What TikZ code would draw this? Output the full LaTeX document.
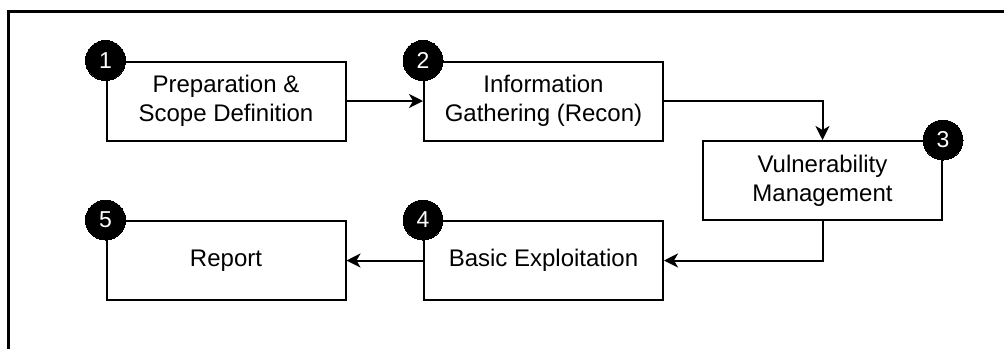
\documentclass[tikz,border=0pt]{standalone}
\usepackage{fontspec}
\setmainfont{Liberation Sans}
\usetikzlibrary{arrows.meta}
\begin{document}
\begin{tikzpicture}[x=1pt,y=-1pt,
  stepbox/.style={draw=black, line width=2pt, fill=white, minimum width=239pt, minimum height=79pt,
    align=center, inner sep=0pt, font=\fontsize{24}{29}\selectfont},
  num/.style={circle, fill=black, draw=black, line width=0pt, minimum size=40pt, inner sep=0pt,
    text=white, font=\fontsize{23}{24}\selectfont},
  arr/.style={line width=2pt, -{Stealth[length=14pt, width=14pt, inset=4pt]}},
  frame/.style={line width=2.3pt}]
\useasboundingbox (0,0) rectangle (1004,349);
\draw[frame] (8.5,349) -- (8.5,11.5) -- (1004,11.5);
\node[stepbox] (b1) at (226,101) {Preparation \&\\Scope Definition};
\node[stepbox] (b2) at (543.5,101) {Information\\Gathering (Recon)};
\node[stepbox] (b3) at (822.5,180.5) {Vulnerability\\Management};
\node[stepbox] (b4) at (543.5,260.5) {Basic Exploitation};
\node[stepbox] (b5) at (226,260.5) {Report};
\draw[arr] (b1.east) -- (b2.west);
\draw[arr] (b2.east) -| (b3.north);
\draw[arr] (b3.south) |- (b4.east);
\draw[arr] (b4.west) -- (b5.east);
\node[num] (n1) at (b1.north west) {1};
\node[num] (n2) at (b2.north west) {2};
\node[num] (n3) at (b3.north east) {3};
\node[num] (n4) at (b4.north west) {4};
\node[num] (n5) at (b5.north west) {5};
\end{tikzpicture}
\end{document}
